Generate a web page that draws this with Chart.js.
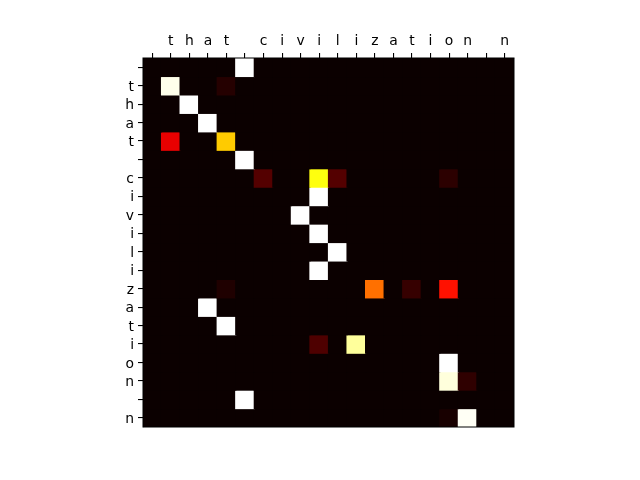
<!DOCTYPE html>
<html><head><meta charset="utf-8">
<script src="https://cdn.jsdelivr.net/npm/chart.js@4"></script>
<style>html,body{margin:0;padding:0;background:#fff}canvas{display:block}</style>
</head><body>
<canvas id="c" width="640" height="480"></canvas>
<script>
const colLabels = [" ","t","h","a","t"," ","c","i","v","i","l","i","z","a","t","i","o","n"," ","n"];
const rowLabels = [" ","t","h","a","t"," ","c","i","v","i","l","i","z","a","t","i","o","n"," ","n"];
// attention weights, one row per output character (rowLabels), one column per input character (colLabels)
const row00 = [0,0,0,0,0,1,0,0,0,0,0,0,0,0,0,0,0,0,0,0];
const row01 = [0,0.98,0,0,0.04,0,0,0,0,0,0,0,0,0,0,0,0,0,0,0];
const row02 = [0,0,1,0,0,0,0,0,0,0,0,0,0,0,0,0,0,0,0,0];
const row03 = [0,0,0,1,0,0,0,0,0,0,0,0,0,0,0,0,0,0,0,0];
const row04 = [0,0.33,0,0,0.665,0,0,0,0,0,0,0,0,0,0,0,0,0,0,0];
const row05 = [0,0,0,0,0,1,0,0,0,0,0,0,0,0,0,0,0,0,0,0];
const row06 = [0,0,0,0,0,0,0.11,0,0,0.76,0.11,0,0,0,0,0,0.05,0,0,0];
const row07 = [0,0,0,0,0,0,0,0,0,1,0,0,0,0,0,0,0,0,0,0];
const row08 = [0,0,0,0,0,0,0,0,1,0,0,0,0,0,0,0,0,0,0,0];
const row09 = [0,0,0,0,0,0,0,0,0,1,0,0,0,0,0,0,0,0,0,0];
const row10 = [0,0,0,0,0,0,0,0,0,0,1,0,0,0,0,0,0,0,0,0];
const row11 = [0,0,0,0,0,0,0,0,0,1,0,0,0,0,0,0,0,0,0,0];
const row12 = [0,0,0,0,0.03,0,0,0,0,0,0,0,0.53,0,0.065,0,0.39,0,0,0];
const row13 = [0,0,0,1,0,0,0,0,0,0,0,0,0,0,0,0,0,0,0,0];
const row14 = [0,0,0,0,1,0,0,0,0,0,0,0,0,0,0,0,0,0,0,0];
const row15 = [0,0,0,0,0,0,0,0,0,0.10,0,0.90,0,0,0,0,0,0,0,0];
const row16 = [0,0,0,0,0,0,0,0,0,0,0,0,0,0,0,0,1,0,0,0];
const row17 = [0,0,0,0,0,0,0,0,0,0,0,0,0,0,0,0,0.965,0.055,0,0];
const row18 = [0,0,0,0,0,1,0,0,0,0,0,0,0,0,0,0,0,0,0,0];
const row19 = [0,0,0,0,0,0,0,0,0,0,0,0,0,0,0,0,0.02,0.99,0,0];
const rows = [row00,row01,row02,row03,row04,row05,row06,row07,row08,row09,row10,row11,row12,row13,row14,row15,row16,row17,row18,row19];

function hot(v){
  const cl = t => Math.max(0, Math.min(1, t));
  const r = cl(0.0416 + (1-0.0416) * v / 0.365079);
  const g = cl((v - 0.365079) / 0.376984);
  const b = cl((v - 0.746032) / 0.253968);
  return `rgb(${Math.round(r*255)},${Math.round(g*255)},${Math.round(b*255)})`;
}

const datasets = rows.map((vals, i) => ({
  label: rowLabels[i],
  data: vals.map(() => 1),
  weights: vals,
  backgroundColor: vals.map(hot),
  borderWidth: 0,
  inflateAmount: 0.6,
  barPercentage: 1,
  categoryPercentage: 1,
  stack: 's'
}));

const font = {family: 'DejaVu Sans', size: 13.9};

const frame = {
  id: 'frame',
  afterDatasetsDraw(chart){
    const a = chart.chartArea, ctx = chart.ctx;
    ctx.save();
    ctx.strokeStyle = '#000'; ctx.lineWidth = 1;
    ctx.strokeRect(a.left, a.top, a.right - a.left, a.bottom - a.top);
    ctx.restore();
  }
};

new Chart(document.getElementById('c'), {
  type: 'bar',
  data: { labels: colLabels.map((_, i) => String(i)), datasets },
  options: {
    responsive: false,
    animation: false,
    layout: { padding: { top: 0, left: 0, right: 126, bottom: 53 } },
    plugins: { legend: { display: false }, tooltip: { enabled: false } },
    scales: {
      x: {
        position: 'top',
        stacked: true,
        offset: true,
        afterFit: s => { s.height = 58; },
        grid: { display: true, drawOnChartArea: false, drawTicks: true, tickLength: 5, color: '#000', lineWidth: 1.1, offset: false },
        border: { display: true, color: '#000' },
        ticks: { color: '#000', font, padding: 3, maxRotation: 0, autoSkip: false,
                 callback: (v, i) => colLabels[i] }
      },
      y: {
        type: 'linear',
        stacked: true,
        reverse: true,
        min: 0, max: 20,
        afterFit: s => { s.width = 143; },
        afterBuildTicks: s => { s.ticks = rowLabels.map((_, i) => ({ value: i + 0.5 })); },
        grid: { display: true, drawOnChartArea: false, drawTicks: true, tickLength: 5, color: '#000', lineWidth: 1.1 },
        border: { display: true, color: '#000' },
        ticks: { color: '#000', font, padding: 4, autoSkip: false, labelOffset: 1.5,
                 callback: v => rowLabels[Math.round(v - 0.5)] }
      }
    }
  },
  plugins: [frame]
});
</script>
</body></html>
